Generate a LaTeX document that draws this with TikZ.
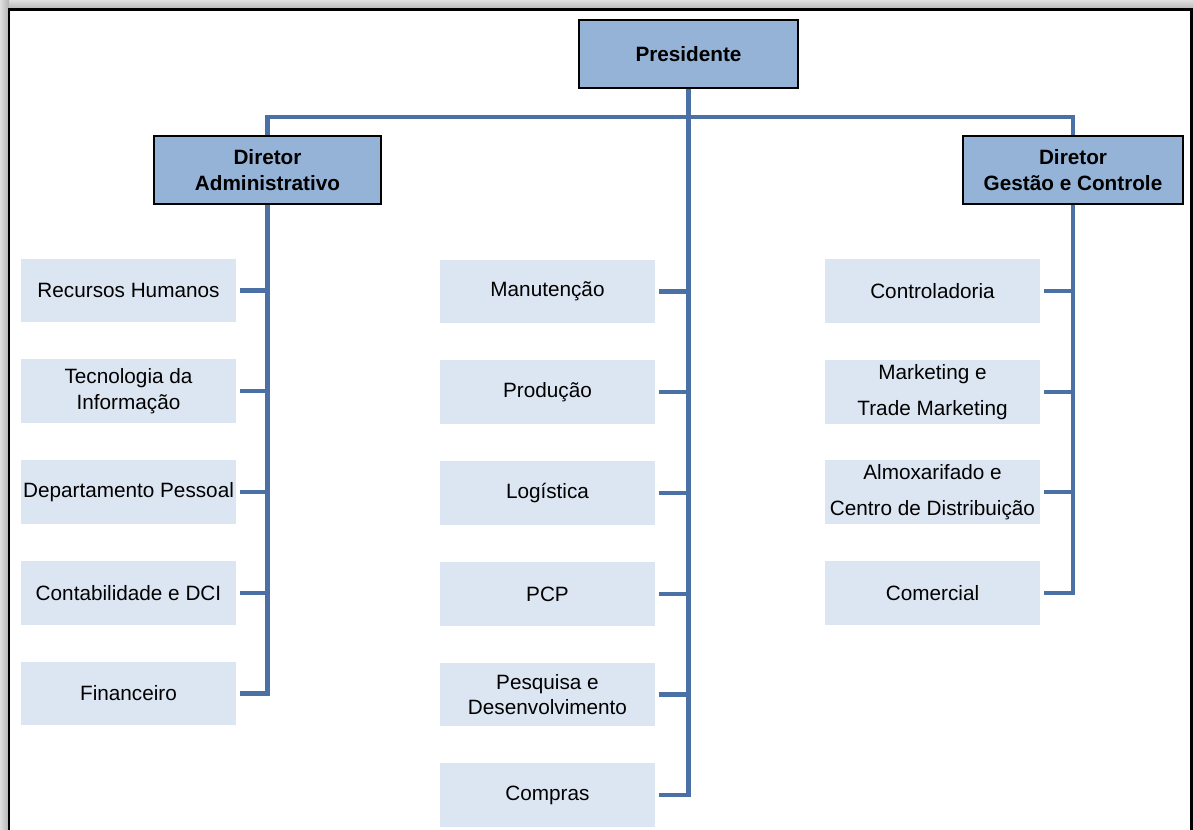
\documentclass[tikz,border=0pt]{standalone}
\usepackage{fontspec}
\setmainfont{Liberation Sans}
\usepackage{xcolor}
\usetikzlibrary{calc}

\definecolor{chefebg}{RGB}{149,179,215}
\definecolor{setorbg}{RGB}{220,230,242}
\definecolor{linha}{RGB}{74,112,165}

\begin{document}
\begin{tikzpicture}[x=0.02cm, y=-0.02cm,
    chefe/.style={
        rectangle, draw=black, line width=1.1pt,
        fill=chefebg, minimum height=1.36cm, inner sep=0pt,
        align=center, font=\fontsize{11.8}{14.5}\selectfont\bfseries
    },
    setor/.style={
        rectangle, fill=setorbg, minimum width=4.3cm,
        minimum height=1.28cm, inner sep=0pt, outer xsep=2.3pt,
        align=center, font=\fontsize{11.8}{14.5}\selectfont
    },
    liga/.style={line width=2.3pt, linha}
]
\useasboundingbox (0,0) rectangle (1193,830);

% moldura
\shade[top color=gray!25, bottom color=gray!60] (0,0) rectangle (1193,10);
\shade[left color=gray!25, right color=gray!60] (0,0) rectangle (9,830);
\draw[line width=1.7pt] (9,830) -- (9,10) -- (1191,10) -- (1191,830);

% chefia
\node[chefe, minimum width=4.38cm] (pres) at (688.5,54) {Presidente};
\node[chefe, minimum width=4.54cm] (diradm) at (267.5,170) {Diretor\\Administrativo};
\node[chefe, minimum width=4.4cm] (dirgc) at (1073,170) {Diretor\\Gestão e Controle};

% setores administrativos
\node[setor] (rh) at (128.5,290.5) {Recursos Humanos};
\node[setor] (ti) at (128.5,391) {Tecnologia da\\Informação};
\node[setor] (dp) at (128.5,492) {Departamento Pessoal};
\node[setor] (cont) at (128.5,593) {Contabilidade e DCI};
\node[setor] (fin) at (128.5,693.5) {Financeiro};

% setores do presidente
\node[setor] (man) at (547.5,291.5) {Manutenção};
\node[setor] (prod) at (547.5,392) {Produção};
\node[setor] (log) at (547.5,493) {Logística};
\node[setor] (pcp) at (547.5,594) {PCP};
\node[setor] (ped) at (547.5,694.5) {Pesquisa e\\Desenvolvimento};
\node[setor] (comp) at (547.5,795) {Compras};

% setores de gestão
\node[setor] (ctrl) at (932.5,291) {Controladoria};
\node[setor] (mkt) at (932.5,392) {Marketing e\\[6pt]Trade Marketing};
\node[setor] (alm) at (932.5,492) {Almoxarifado e\\[6pt]Centro de Distribuição};
\node[setor] (com) at (932.5,593) {Comercial};

% ligações
\coordinate (bus) at (688,117);
\draw[liga] (diradm.north) -- (diradm.north |- bus) -- (dirgc.north |- bus) -- (dirgc.north);
\draw[liga] (pres.south) |- (comp.east);
\draw[liga] (diradm.south) |- (fin.east);
\draw[liga] (dirgc.south) |- (com.east);
\foreach \s in {rh,ti,dp,cont}
    \draw[liga] (\s.east) -- (\s.east -| diradm.south);
\foreach \s in {man,prod,log,pcp,ped}
    \draw[liga] (\s.east) -- (\s.east -| pres.south);
\foreach \s in {ctrl,mkt,alm}
    \draw[liga] (\s.east) -- (\s.east -| dirgc.south);

\end{tikzpicture}
\end{document}
